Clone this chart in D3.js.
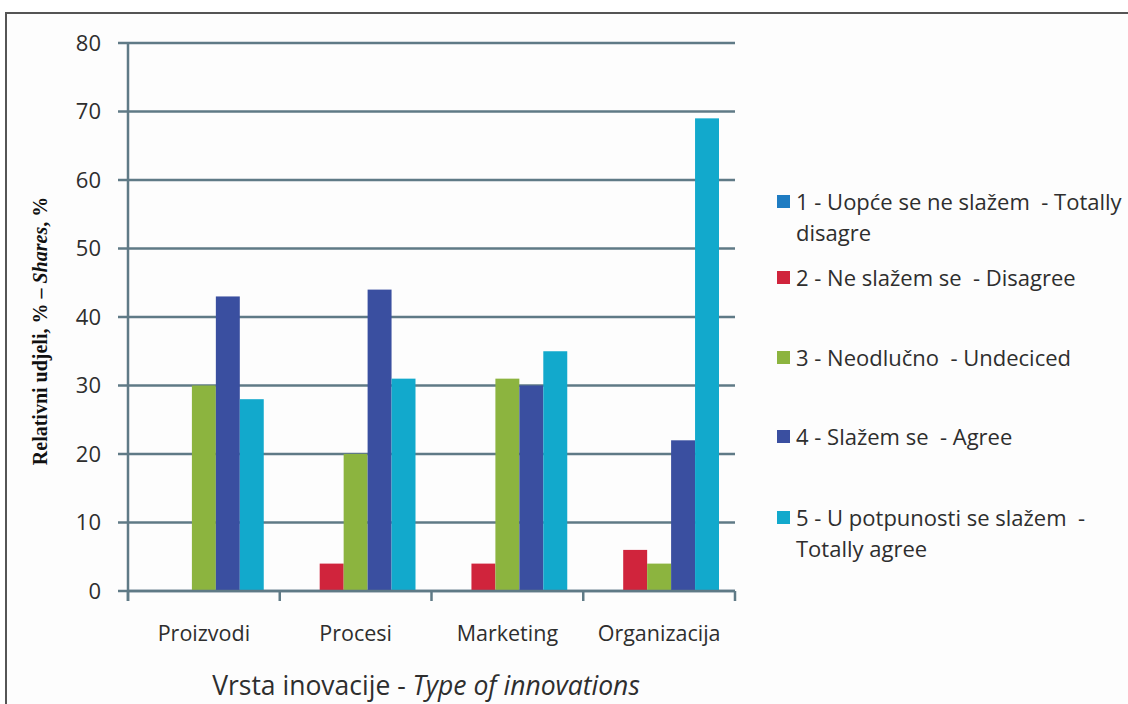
<!DOCTYPE html>
<html>
<head>
<meta charset="utf-8">
<script src="https://cdn.jsdelivr.net/npm/d3@7"></script>
<style>
  body { margin: 0; background: #fff; }
  svg text { font-family: "Open Sans", sans-serif; fill: #2e2e2e; }
</style>
</head>
<body>
<div id="chart"></div>
<script>
const categories = ["Proizvodi", "Procesi", "Marketing", "Organizacija"];
const seriesNames = [
  ["1 - Uopće se ne slažem  - Totally", "disagre"],
  ["2 - Ne slažem se  - Disagree"],
  ["3 - Neodlučno  - Undeciced"],
  ["4 - Slažem se  - Agree"],
  ["5 - U potpunosti se slažem  -", "Totally agree"]
];
const totallyDisagree = [0, 0, 0, 0];
const disagree = [0, 4, 4, 6];
const undecided = [30, 20, 31, 4];
const agree = [43, 44, 30, 22];
const totallyAgree = [28, 31, 35, 69];
const yTicks = [0, 10, 20, 30, 40, 50, 60, 70, 80];
const colors = ["#1f7cc2", "#d0243c", "#8cb43f", "#3a4fa0", "#12a9cc"];

const series = [totallyDisagree, disagree, undecided, agree, totallyAgree];

const width = 1128, height = 704;
const svg = d3.select("#chart").append("svg")
  .attr("width", width)
  .attr("height", height);

// outer frame
svg.append("rect")
  .attr("x", 6).attr("y", 13)
  .attr("width", 1140).attr("height", 720)
  .attr("fill", "#fdfdfd")
  .attr("stroke", "#555").attr("stroke-width", 2);

const plotLeft = 128, plotRight = 735, plotTop = 43, plotBottom = 591;

const x = d3.scaleBand()
  .domain(categories)
  .range([plotLeft, plotRight]);

const x1 = d3.scaleBand()
  .domain(d3.range(series.length))
  .range([16, x.bandwidth() - 16]);

const y = d3.scaleLinear()
  .domain([0, 80])
  .range([plotBottom, plotTop]);

const gridColor = "#5f7a86";

// grid lines
svg.append("g")
  .selectAll("line")
  .data(yTicks)
  .join("line")
  .attr("x1", plotLeft - 10)
  .attr("x2", plotRight)
  .attr("y1", d => y(d))
  .attr("y2", d => y(d))
  .attr("stroke", gridColor)
  .attr("stroke-width", 2.5);

// y tick labels
svg.append("g")
  .selectAll("text")
  .data(yTicks)
  .join("text")
  .attr("x", 101)
  .attr("y", d => y(d))
  .attr("dy", "0.36em")
  .attr("text-anchor", "end")
  .style("font-size", "22px")
  .text(d => d);

// bars
const groups = svg.append("g")
  .selectAll("g")
  .data(categories)
  .join("g")
  .attr("transform", d => `translate(${x(d)},0)`);

groups.selectAll("rect")
  .data((d, i) => series.map((s, j) => ({ j, v: s[i] })))
  .join("rect")
  .attr("x", d => x1(d.j))
  .attr("width", x1.bandwidth())
  .attr("y", d => y(d.v))
  .attr("height", d => plotBottom - y(d.v))
  .attr("fill", d => colors[d.j]);

// y axis line
svg.append("line")
  .attr("x1", plotLeft).attr("x2", plotLeft)
  .attr("y1", plotTop).attr("y2", plotBottom + 10)
  .attr("stroke", gridColor).attr("stroke-width", 2.5);

// x axis + ticks
svg.append("line")
  .attr("x1", plotLeft).attr("x2", plotRight)
  .attr("y1", plotBottom).attr("y2", plotBottom)
  .attr("stroke", gridColor).attr("stroke-width", 2.5);

const xTickPos = categories.map(c => x(c)).concat([x(categories[categories.length - 1]) + x.bandwidth()]);
svg.append("g")
  .selectAll("line")
  .data(xTickPos)
  .join("line")
  .attr("x1", d => d).attr("x2", d => d)
  .attr("y1", plotBottom).attr("y2", plotBottom + 10)
  .attr("stroke", gridColor).attr("stroke-width", 2.5);

// x labels
svg.append("g")
  .selectAll("text")
  .data(categories)
  .join("text")
  .attr("x", d => x(d) + x.bandwidth() / 2)
  .attr("y", 641)
  .attr("text-anchor", "middle")
  .style("font-size", "21.5px")
  .text(d => d);

// x title
const xt = svg.append("text")
  .attr("x", 426)
  .attr("y", 695)
  .attr("text-anchor", "middle")
  .style("font-size", "26.5px")
  .style("white-space", "pre");
xt.append("tspan").text("Vrsta inovacije - ");
xt.append("tspan").style("font-style", "italic").text("Type of innovations");

// y title
const yt = svg.append("text")
  .attr("transform", "translate(47,331) rotate(-90)")
  .attr("text-anchor", "middle")
  .style("font-family", "'Liberation Serif', serif")
  .style("font-weight", "bold")
  .style("font-size", "20px")
  .style("fill", "#111");
yt.append("tspan").text("Relativni udjeli, % – ");
yt.append("tspan").style("font-style", "italic").text("Shares");
yt.append("tspan").text(", %");

// legend
const legendY = [202, 278, 358, 437, 518];
const legend = svg.append("g")
  .selectAll("g")
  .data(seriesNames)
  .join("g")
  .attr("transform", (d, i) => `translate(777,${legendY[i]})`);

legend.append("rect")
  .attr("x", 0).attr("y", -7)
  .attr("width", 13).attr("height", 13)
  .attr("fill", (d, i) => colors[i]);

legend.append("text")
  .style("font-size", "22px")
  .style("white-space", "pre")
  .selectAll("tspan")
  .data(d => d)
  .join("tspan")
  .attr("x", 19)
  .attr("y", (d, i) => i * 31)
  .attr("dy", "0.36em")
  .text(d => d);
</script>
</body>
</html>
